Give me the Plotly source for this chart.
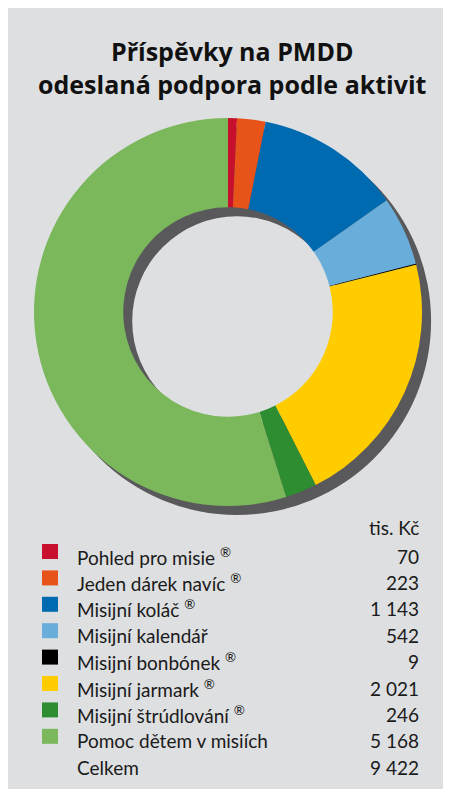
import plotly.graph_objects as go

W, H = 451, 789
OX, OY = 8, 8  # page body margin offset

title_lines = ["Příspěvky na PMDD", "odeslaná podpora podle aktivit"]
categories = ["Pohled pro misie", "Jeden dárek navíc", "Misijní koláč", "Misijní kalendář",
              "Misijní bonbónek", "Misijní jarmark", "Misijní štrúdlování", "Pomoc dětem v misiích"]
registered = [True, True, True, False, True, True, True, False]
values = [70, 223, 1143, 542, 9, 2021, 246, 5168]
colors = ["#c8102e", "#e8531a", "#006ab0", "#69addb", "#000000", "#ffcc00", "#2e8d31", "#7bb75b"]
unit_label = "tis. Kč"
total_label = "Celkem"

BG = "#dedfe1"
SHADOW = "#59595b"
TXT = "#1a1a1a"

def fmt(v):
    return f"{v:,}".replace(",", " ")

def px(x):
    return (x - OX) / W

def py(y):
    return 1 - (y - OY) / H

# donut geometry in screen pixels
cx, cy, R = 228, 312, 194
sdx, sdy = 9, 9

def dom(x0, y0):
    return dict(x=[px(x0 - R), px(x0 + R)], y=[py(y0 + R), py(y0 - R)])

fig = go.Figure()
fig.add_trace(go.Pie(values=[1], marker=dict(colors=[SHADOW], line=dict(width=0)),
                     hole=0.54, textinfo="none", hoverinfo="skip", sort=False,
                     domain=dom(cx + sdx, cy + sdy), showlegend=False))
fig.add_trace(go.Pie(labels=categories, values=values,
                     marker=dict(colors=colors, line=dict(width=0)),
                     hole=0.54, textinfo="none", sort=False, direction="clockwise",
                     rotation=0, domain=dom(cx, cy), showlegend=False))

shapes = [dict(type="rect", xref="paper", yref="paper", x0=0, x1=1, y0=0, y1=py(11),
               fillcolor=BG, line=dict(width=0), layer="below")]
annotations = []
annotations.append(dict(text="<b>" + title_lines[0] + "<br>" + title_lines[1] + "</b>",
                        x=px(232), y=py(67), xref="paper", yref="paper",
                        xanchor="center", yanchor="middle", showarrow=False,
                        font=dict(family="Open Sans", size=25, color="#111111")))

LF = dict(family="Lato", size=19, color=TXT)
annotations.append(dict(text=unit_label, x=px(421), y=py(527), xref="paper", yref="paper",
                        xanchor="right", yanchor="middle", showarrow=False, font=LF))
row0, step = 556, 26.4
for i, (c, v, col, reg) in enumerate(zip(categories, values, colors, registered)):
    ty = row0 + i * step
    sq_top = 544 + i * step
    shapes.append(dict(type="rect", xref="paper", yref="paper", x0=px(42), x1=px(58),
                       y0=py(sq_top + 15), y1=py(sq_top), fillcolor=col, line=dict(width=0)))
    label = c + (" <sup>®</sup>" if reg else "")
    annotations.append(dict(text=label, x=px(75), y=py(ty), xref="paper", yref="paper",
                            xanchor="left", yanchor="middle", showarrow=False, font=LF))
    annotations.append(dict(text=fmt(v), x=px(421), y=py(ty), xref="paper", yref="paper",
                            xanchor="right", yanchor="middle", showarrow=False, font=LF))
ty = row0 + len(values) * step
annotations.append(dict(text=total_label, x=px(75), y=py(ty), xref="paper", yref="paper",
                        xanchor="left", yanchor="middle", showarrow=False, font=LF))
annotations.append(dict(text=fmt(sum(values)), x=px(421), y=py(ty), xref="paper", yref="paper",
                        xanchor="right", yanchor="middle", showarrow=False, font=LF))

fig.update_layout(width=W, height=H, margin=dict(l=0, r=0, t=0, b=0),
                  paper_bgcolor=BG, plot_bgcolor=BG,
                  shapes=shapes, annotations=annotations, showlegend=False)
fig.write_html("out.html")
